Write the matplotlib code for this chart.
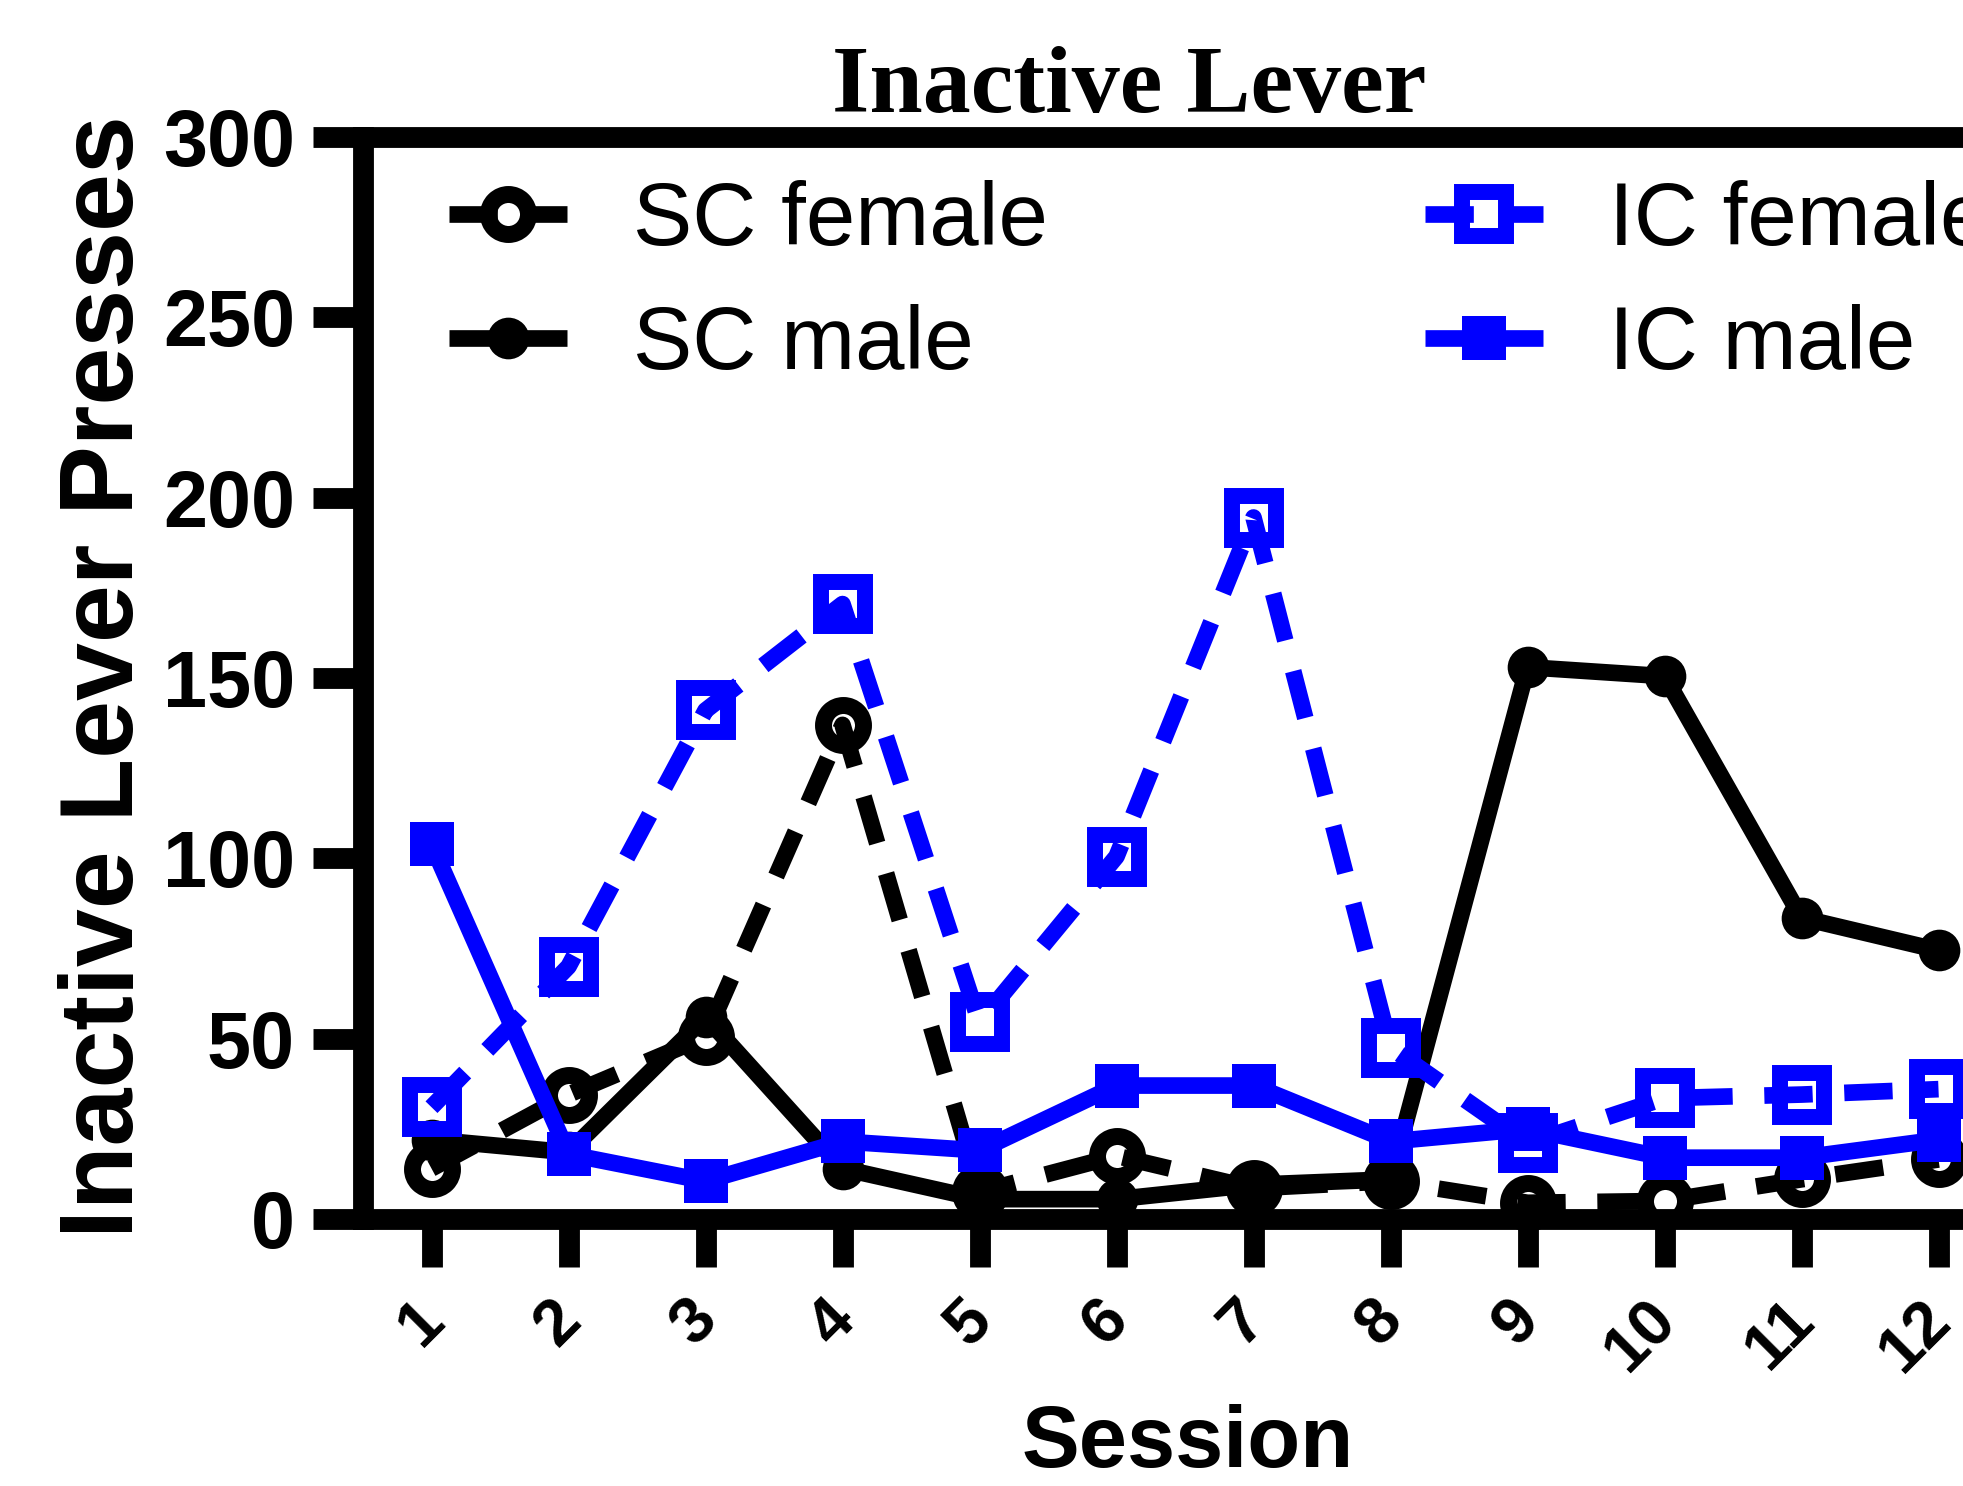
import matplotlib
matplotlib.use('Agg')
import matplotlib.pyplot as plt
from matplotlib.transforms import ScaledTranslation

sessions = [1, 2, 3, 4, 5, 6, 7, 8, 9, 10, 11, 12]
sc_female = [14, 34.5, 50.5, 137, 7.5, 17.5, 8.5, 10.5, 4.5, 5, 11, 16.5]
sc_male = [22, 18.5, 56, 14, 5.5, 5.5, 9.5, 11, 153, 150.5, 83.5, 74.5]
ic_female = [31, 70, 141, 170.5, 54.5, 100.5, 194.5, 47.5, 21, 33.5, 34.5, 36]
ic_male = [104, 18, 10.5, 21.5, 19, 37, 37, 21.5, 25, 17, 17, 22]
yticks = [0, 50, 100, 150, 200, 250, 300]

SANS = 'Liberation Sans'
SERIF = 'Liberation Serif'
BLUE = '#0000ff'

W, H = 1963, 1486
fig = plt.figure(figsize=(W / 100, H / 100), dpi=100)
ax = fig.add_axes([363 / W, 267 / H, 1781 / W, 1082 / H])

lw = 12
dash = (0, (2.9, 1.9))
common = dict(lw=lw, clip_on=False, solid_capstyle='butt', dash_capstyle='butt',
              solid_joinstyle='round')
ax.plot(sessions, sc_female, color='black', ls=dash, marker='o', ms=28.8,
        mew=12.2, mfc='none', mec='black', label='SC female', **common)
ax.plot(sessions, sc_male, color='black', ls='-', marker='o', ms=30,
        mew=0, mfc='black', label='SC male', **common)
ax.plot(sessions, ic_female, color=BLUE, ls=dash, marker='s', ms=31.7,
        mew=11.5, mfc='none', mec=BLUE, label='IC female', **common)
ax.plot(sessions, ic_male, color=BLUE, ls='-', marker='s', ms=31,
        mew=0, mfc=BLUE, label='IC male', **common)

ax.set_xlim(0.5, 13.5)
ax.set_ylim(0, 300)
ax.spines['right'].set_visible(False)
for s in ['left', 'top', 'bottom']:
    ax.spines[s].set_linewidth(15)
    ax.spines[s].set_color('black')

ax.set_yticks(yticks)
ax.set_yticklabels([str(v) for v in yticks], fontsize=57, fontweight='bold', family=SANS)
ax.set_xticks(sessions)
ax.set_xticklabels([str(s) for s in sessions], rotation=45, ha='right', va='top',
                   fontsize=47, fontweight='bold', family=SANS)
ax.tick_params(axis='both', direction='out', width=15, color='black')
ax.tick_params(axis='y', length=36, pad=13)
ax.tick_params(axis='x', length=34.5, pad=16)
off = ScaledTranslation(0.24, 0, fig.dpi_scale_trans)
for lbl in ax.get_xticklabels():
    lbl.set_transform(lbl.get_transform() + off)

fig.text(1129 / W, 1 - 112 / H, 'Inactive Lever', family=SERIF, fontweight='bold',
         fontsize=69, ha='center', va='baseline')
fig.text(133 / W, 1 - 677 / H, 'Inactive Lever Presses', family=SANS, fontweight='bold',
         fontsize=75, rotation=90, rotation_mode='anchor', ha='center', va='baseline')
fig.text(1188 / W, 19 / H, 'Session', family=SANS, fontweight='bold',
         fontsize=62.5, ha='center', va='baseline')

ax.legend(loc='upper left', bbox_to_anchor=(449 / W, 1 - 180 / H),
          bbox_transform=fig.transFigure, ncol=2, frameon=False,
          prop={'family': SANS, 'size': 64}, handlelength=1.33, handletextpad=0.74,
          columnspacing=4.24, labelspacing=0.45, borderpad=0, borderaxespad=0)

fig.savefig('out.png', dpi=100)
